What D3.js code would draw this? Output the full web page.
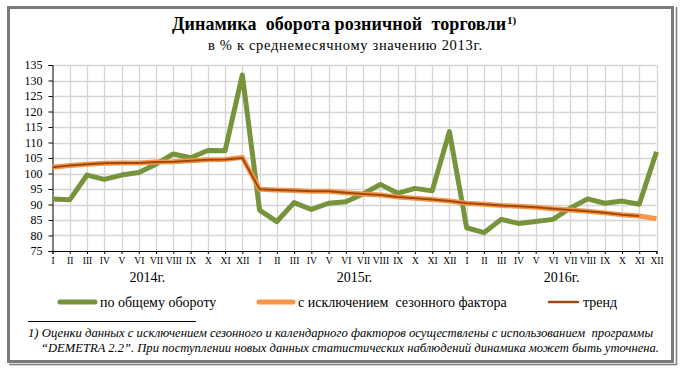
<!DOCTYPE html>
<html>
<head>
<meta charset="utf-8">
<script src="https://cdn.jsdelivr.net/npm/d3@7"></script>
<style>
  body { margin: 0; background: #fff; }
  svg text { fill: #000; white-space: pre; }
</style>
</head>
<body>
<svg id="chart" width="680" height="369"></svg>
<script>
// month labels repeat for each year
var monthNames = ['I', 'II', 'III', 'IV', 'V', 'VI', 'VII', 'VIII', 'IX', 'X', 'XI', 'XII'];
var years = ['2014г.', '2015г.', '2016г.'];
var yTicks = [75, 80, 85, 90, 95, 100, 105, 110, 115, 120, 125, 130, 135];

var total = [
  91.8, 91.5, 99.5, 98.1, 99.5, 100.3, 103.0, 106.3, 105.1, 107.4, 107.3, 131.8,
  88.2, 84.5, 90.6, 88.4, 90.4, 90.9, 93.4, 96.5, 93.6, 95.2, 94.4, 113.5,
  82.5, 80.9, 85.2, 83.9, 84.5, 85.2, 88.8, 91.8, 90.4, 91.1, 90.1, 107.0
];
var seasonal = [
  102.0, 102.6, 103.0, 103.3, 103.4, 103.4, 103.7, 103.8, 104.1, 104.4, 104.5, 105.2,
  94.9, 94.7, 94.5, 94.3, 94.3, 93.8, 93.4, 93.1, 92.4, 92.0, 91.6, 91.1,
  90.4, 90.1, 89.7, 89.4, 89.1, 88.6, 88.2, 87.8, 87.3, 86.7, 86.3, 85.4
];
var trend = [
  102.0, 102.6, 103.0, 103.3, 103.4, 103.4, 103.7, 103.8, 104.1, 104.4, 104.5, 105.0,
  94.9, 94.7, 94.5, 94.3, 94.3, 93.8, 93.4, 93.1, 92.4, 92.0, 91.6, 91.1,
  90.4, 90.1, 89.7, 89.4, 89.1, 88.6, 88.2, 87.8, 87.3, 86.7, 86.3
];

var series = [
  { name: 'по общему обороту', values: total, color: '#77933c', width: 5 },
  { name: 'с исключением  сезонного фактора', values: seasonal, color: '#f79646', width: 5 },
  { name: 'тренд', values: trend, color: '#9c4a12', width: 2 }
];

var serif = '"Liberation Serif", "Times New Roman", "DejaVu Serif", serif';
var svg = d3.select('#chart');

// frame
svg.append('rect')
  .attr('x', 8.5).attr('y', 7.5).attr('width', 664).attr('height', 354)
  .attr('fill', 'none').attr('stroke', '#7a7a7a').attr('stroke-width', 3);
svg.append('path')
  .attr('d', 'M9,364.5H676.5V7')
  .attr('fill', 'none').attr('stroke', '#7a7a7a').attr('stroke-width', 1.5);

// titles
var title = svg.append('text')
  .attr('x', 172).attr('y', 30)
  .style('font-family', serif)
  .style('font-size', '18px').style('font-weight', 'bold');
title.append('tspan')
  .attr('textLength', 334).attr('lengthAdjust', 'spacing')
  .text('Динамика  оборота розничной  торговли');
title.append('tspan').attr('dy', -6).attr('dx', 1).style('font-size', '11px').text('1)');

svg.append('text')
  .attr('x', 208).attr('y', 50)
  .attr('textLength', 274).attr('lengthAdjust', 'spacing')
  .style('font-family', serif)
  .style('font-size', '14.5px')
  .text('в % к среднемесячному значению 2013г.');

var plot = { left: 52.5, right: 656.5, top: 65, bottom: 251 };

var labels = d3.range(total.length).map(function (i) { return monthNames[i % 12]; });

var x = d3.scaleLinear().domain([0, total.length - 1]).range([plot.left, plot.right]);
var y = d3.scaleLinear().domain([75, 135]).range([plot.bottom, plot.top]);

// gridlines
svg.append('g')
  .selectAll('line.h')
  .data(yTicks.slice(1))
  .join('line')
  .attr('x1', plot.left).attr('x2', plot.right)
  .attr('y1', function (d) { return Math.round(y(d)) + 0.5; })
  .attr('y2', function (d) { return Math.round(y(d)) + 0.5; })
  .attr('stroke', '#d4d4d4').attr('stroke-width', 1.3);

svg.append('g')
  .selectAll('line.v')
  .data(d3.range(1, total.length))
  .join('line')
  .attr('x1', function (d) { return Math.round(x(d)) + 0.5; })
  .attr('x2', function (d) { return Math.round(x(d)) + 0.5; })
  .attr('y1', plot.top).attr('y2', plot.bottom)
  .attr('stroke', '#d4d4d4').attr('stroke-width', 1.3);

// y axis
var yAxis = svg.append('g')
  .attr('transform', 'translate(' + plot.left + ',0)')
  .call(d3.axisLeft(y).tickValues(yTicks).tickSize(4).tickPadding(6));
yAxis.attr('font-family', null);
yAxis.select('.domain').attr('stroke', '#000');
yAxis.selectAll('text').style('font-size', '12px').style('font-family', serif);

// x axis
var xAxis = svg.append('g')
  .attr('transform', 'translate(0,' + plot.bottom + ')')
  .call(d3.axisBottom(x)
    .tickValues(d3.range(total.length))
    .tickFormat(function (d) { return labels[d]; })
    .tickSize(3).tickPadding(3));
xAxis.attr('font-family', null);
xAxis.select('.domain').attr('stroke', '#000');
xAxis.selectAll('text').style('font-size', '9.5px').style('font-family', serif);

// year labels
svg.append('g')
  .selectAll('text')
  .data(years)
  .join('text')
  .attr('x', function (d, i) { return x(i * 12 + 5.5); })
  .attr('y', 282)
  .attr('text-anchor', 'middle')
  .style('font-family', serif)
  .style('font-size', '14px')
  .text(function (d) { return d; });

// lines
var line = d3.line()
  .x(function (d, i) { return x(i); })
  .y(function (d) { return y(d); });

svg.append('g')
  .selectAll('path')
  .data(series)
  .join('path')
  .attr('d', function (d) { return line(d.values); })
  .attr('fill', 'none')
  .attr('stroke', function (d) { return d.color; })
  .attr('stroke-width', function (d) { return d.width; })
  .attr('stroke-linejoin', 'round');

// legend
var legendPos = [
  { x1: 60, x2: 95 },
  { x1: 259, x2: 293 },
  { x1: 549, x2: 578 }
];
var legend = svg.append('g')
  .selectAll('g')
  .data(series)
  .join('g');
legend.append('line')
  .attr('x1', function (d, i) { return legendPos[i].x1; })
  .attr('x2', function (d, i) { return legendPos[i].x2; })
  .attr('y1', 302).attr('y2', 302)
  .attr('stroke', function (d) { return d.color; })
  .attr('stroke-width', function (d, i) { return i < 2 ? 5 : 2.5; })
  .attr('stroke-linecap', 'round');
legend.append('text')
  .attr('x', function (d, i) { return legendPos[i].x2 + 5; })
  .attr('y', 306.5)
  .style('font-family', serif)
  .style('font-size', '14px')
  .text(function (d) { return d.name; });

// footnote
svg.append('line')
  .attr('x1', 28).attr('x2', 196)
  .attr('y1', 321.5).attr('y2', 321.5)
  .attr('stroke', '#000').attr('stroke-width', 1);

svg.append('text')
  .attr('x', 28).attr('y', 337)
  .attr('textLength', 625).attr('lengthAdjust', 'spacingAndGlyphs')
  .style('font-family', serif)
  .style('font-size', '12.5px').style('font-style', 'italic')
  .text('1) Оценки данных с исключением сезонного и календарного факторов осуществлены с использованием  программы');
svg.append('text')
  .attr('x', 41).attr('y', 352)
  .attr('textLength', 618).attr('lengthAdjust', 'spacingAndGlyphs')
  .style('font-family', serif)
  .style('font-size', '12.5px').style('font-style', 'italic')
  .text('“DEMETRA 2.2”. При поступлении новых данных статистических наблюдений динамика может быть уточнена.');
</script>
</body>
</html>
